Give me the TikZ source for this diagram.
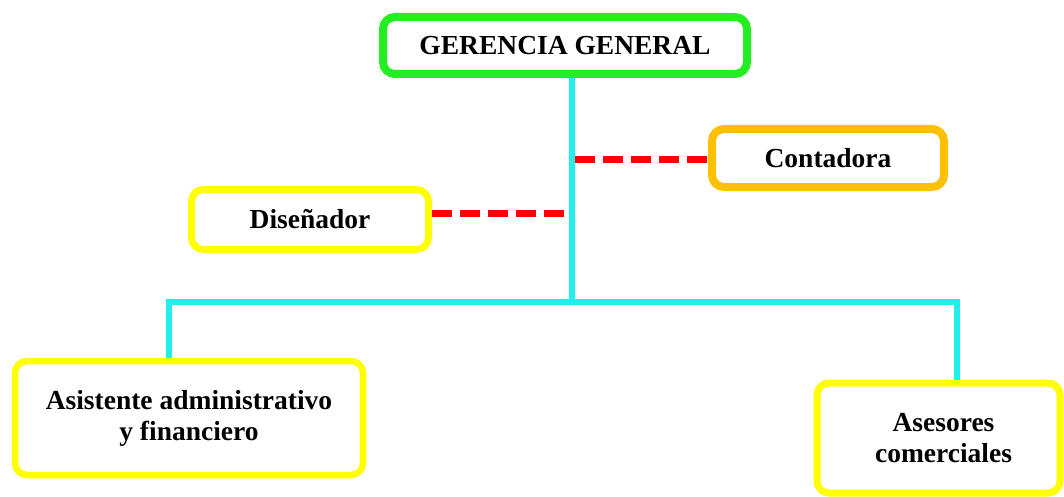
\documentclass[tikz,border=0pt]{standalone}
\usepackage{fontspec}
\setmainfont{Liberation Serif}
\definecolor{gboxc}{HTML}{22EE22}
\definecolor{yboxc}{HTML}{FFFF00}
\definecolor{oboxc}{HTML}{FFC000}
\definecolor{cyanc}{HTML}{22EEEE}
\definecolor{redc}{HTML}{FF0000}
\begin{document}
\begin{tikzpicture}[x=1pt,y=-1pt,
  orgbox/.style={draw, fill=white, rounded corners=12pt, align=center, inner sep=0pt,
     font=\fontsize{27.5}{31}\selectfont\bfseries},
  linkc/.style={draw=cyanc, line width=6pt, line join=miter},
  linkd/.style={draw=redc, line width=7pt, dash pattern=on 20pt off 8pt}]
\fill[white] (0,0) rectangle (1064,497);
\useasboundingbox (0,0) rectangle (1064,497);
% connectors coordinates
\coordinate (trunk) at (571.5,301);
\coordinate (hl) at (169,302);
\coordinate (hr) at (957,302);
\coordinate (d1) at (568,213);
\coordinate (d2) at (575,160);
% nodes
\node[orgbox, draw=gboxc, line width=8pt, minimum width=364pt, minimum height=57pt] (gg) at (565,45.5) {GERENCIA GENERAL};
\node[orgbox, draw=yboxc, line width=7pt, minimum width=237pt, minimum height=60pt] (dis) at (310,219.5) {Diseñador};
\node[orgbox, draw=oboxc, line width=8pt, minimum width=232pt, minimum height=58pt] (con) at (828,158) {Contadora};
\node[orgbox, draw=yboxc, line width=6.5pt, minimum width=348pt, minimum height=114pt] (asis) at (189,418) {Asistente administrativo\\y financiero};
\node[orgbox, draw=yboxc, line width=7pt, minimum width=243pt, minimum height=110pt] (ases) at (938.5,438) {\hspace*{10pt}Asesores\\\hspace*{10pt}comerciales};
% dashed staff links
\draw[linkd] (d1 -| dis.east) -- (d1);
\draw[linkd] (d2) -- (d2 -| con.west);
% solid hierarchy links
\draw[linkc] (gg.south -| trunk) -- (trunk);
\draw[linkc] (asis.north -| hl) -- (hl) -- (hr) -- (ases.north -| hr);
\end{tikzpicture}
\end{document}
